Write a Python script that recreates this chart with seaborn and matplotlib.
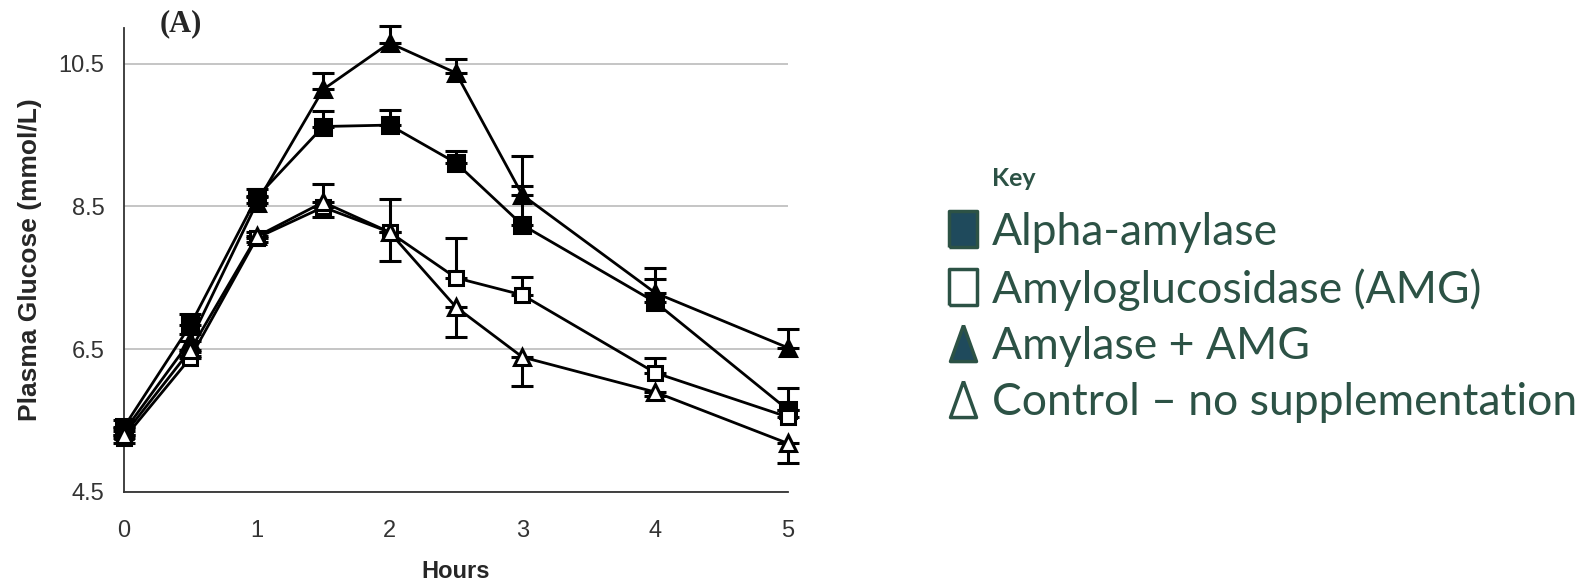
import matplotlib
matplotlib.use("Agg")
import matplotlib.pyplot as plt
import numpy as np
import pandas as pd
import seaborn as sns
from matplotlib.lines import Line2D

# values (mmol/L)
hours = [0, 0.5, 1, 1.5, 2, 2.5, 3, 4, 5]
alpha_amylase = [5.41, 6.84, 8.63, 9.62, 9.64, 9.11, 8.24, 7.16, 5.65]
amg = [5.25, 6.38, 8.06, 8.49, 8.14, 7.50, 7.26, 6.17, 5.55]
amylase_amg = [5.35, 6.62, 8.55, 10.14, 10.79, 10.37, 8.66, 7.29, 6.52]
control = [5.30, 6.49, 8.08, 8.56, 8.14, 7.09, 6.39, 5.90, 5.18]

# one-sided error bars as drawn in the figure
alpha_err_up = [0.10, 0.15, 0.12, 0.22, 0.21, 0.17, 0.55, 0.32, 0.30]
amg_err_up = [0.05, 0.08, 0.08, 0.33, 0.47, 0.56, 0.25, 0.21, 0.10]
amylase_amg_err_up = [0.05, 0.10, 0.10, 0.23, 0.24, 0.19, 0.54, 0.35, 0.26]
control_err_down = [0.12, 0.08, 0.08, 0.21, 0.40, 0.42, 0.40, 0.06, 0.28]

labels = ["Alpha-amylase", "Amyloglucosidase (AMG)", "Amylase + AMG",
          "Control \u2013 no supplementation"]
y_ticks = [4.5, 6.5, 8.5, 10.5]
x_ticks = [0, 1, 2, 3, 4, 5]

sns.set_style("white")
plt.rcParams["font.family"] = ["Liberation Sans", "DejaVu Sans"]

W, H = 1588, 587
fig = plt.figure(figsize=(W / 100, H / 100), dpi=100)
ax = fig.add_axes([124 / W, 1 - 492 / H, (788 - 124) / W, (492 - 28) / H])

series = [
    (alpha_amylase, "s", "black", 11, alpha_err_up, "up"),
    (amg, "s", "white", 10, amg_err_up, "up"),
    (amylase_amg, "^", "black", 12, amylase_amg_err_up, "up"),
    (control, "^", "white", 12, control_err_down, "down"),
]

for vals, mk, face, ms, err, side in series:
    zeros = np.zeros(len(err))
    yerr = [zeros, err] if side == "up" else [err, zeros]
    ax.errorbar(hours, vals, yerr=yerr, fmt="none", ecolor="black",
                elinewidth=2.2, capsize=8, capthick=2.2, clip_on=False, zorder=3)

for (vals, mk, face, ms, err, side), lab in zip(series, labels):
    df = pd.DataFrame({"hours": hours, "glucose": vals})
    sns.lineplot(data=df, x="hours", y="glucose", ax=ax, color="black",
                 linewidth=2, marker=mk, markersize=ms, markerfacecolor=face,
                 markeredgecolor="black", markeredgewidth=2.2, clip_on=False,
                 zorder=4, label=lab)

if ax.get_legend() is not None:
    ax.get_legend().remove()

ax.set_xlim(0, 5)
ax.set_ylim(4.5, 11.0)
ax.set_xticks(x_ticks)
ax.set_xticklabels([str(t) for t in x_ticks])
ax.set_yticks(y_ticks)
ax.set_yticklabels([str(t) for t in y_ticks])
ax.yaxis.grid(True, color="#b5b5b5", linewidth=1.1)
ax.set_axisbelow(True)
for s in ["top", "right"]:
    ax.spines[s].set_visible(False)
for s in ["left", "bottom"]:
    ax.spines[s].set_color("#333333")
    ax.spines[s].set_linewidth(1.3)
ax.tick_params(axis="x", direction="out", length=6, width=1.2, pad=14,
               labelsize=17, colors="#333333")
ax.tick_params(axis="y", direction="out", length=7, width=1.2, pad=7,
               labelsize=17, colors="#333333")
ax.set_xlabel("Hours", fontsize=17, fontweight="bold")
ax.xaxis.set_label_coords(0.5, -(572 - 492) / 464, transform=ax.transAxes)
ax.xaxis.label.set_va("center")
ax.set_ylabel("Plasma Glucose (mmol/L)", fontsize=19, fontweight="bold")
ax.yaxis.set_label_coords(-(124 - 30) / 664, 0.5)
ax.yaxis.label.set_va("center")

fig.text(160 / W, 1 - 24 / H, "(A)", family="Liberation Serif",
         fontweight="bold", fontsize=22, va="center", ha="left")

# key on the right
key_col = "#2c5245"
key_fill = "#1f4a5c"
rect = [(-0.38, -0.5), (0.38, -0.5), (0.38, 0.5), (-0.38, 0.5), (-0.38, -0.5)]
tri = [(0, 0.5), (-0.36, -0.5), (0.36, -0.5), (0, 0.5)]
handles = [
    Line2D([], [], linestyle="none", marker=rect, markersize=26,
           markerfacecolor=key_fill, markeredgecolor=key_col, markeredgewidth=2.5),
    Line2D([], [], linestyle="none", marker=rect, markersize=26,
           markerfacecolor="white", markeredgecolor=key_col, markeredgewidth=2.5),
    Line2D([], [], linestyle="none", marker=tri, markersize=26,
           markerfacecolor=key_fill, markeredgecolor=key_col, markeredgewidth=2.5),
    Line2D([], [], linestyle="none", marker=tri, markersize=26,
           markerfacecolor="white", markeredgecolor=key_col, markeredgewidth=2.5),
]
fig.text(992 / W, 1 - 178 / H, "Key", family=["Lato", "DejaVu Sans"],
         fontweight="bold", fontsize=18, color=key_col, va="center", ha="left")
leg = fig.legend(handles, labels, loc="upper left",
                 bbox_to_anchor=(950 / W, 1 - 212 / H), frameon=False,
                 prop={"family": ["Lato", "DejaVu Sans"], "size": 32},
                 labelcolor=key_col, handlelength=0.6, handletextpad=0.35,
                 labelspacing=0.34, borderpad=0, borderaxespad=0)

fig.savefig("out.png", dpi=100)
plt.close(fig)
